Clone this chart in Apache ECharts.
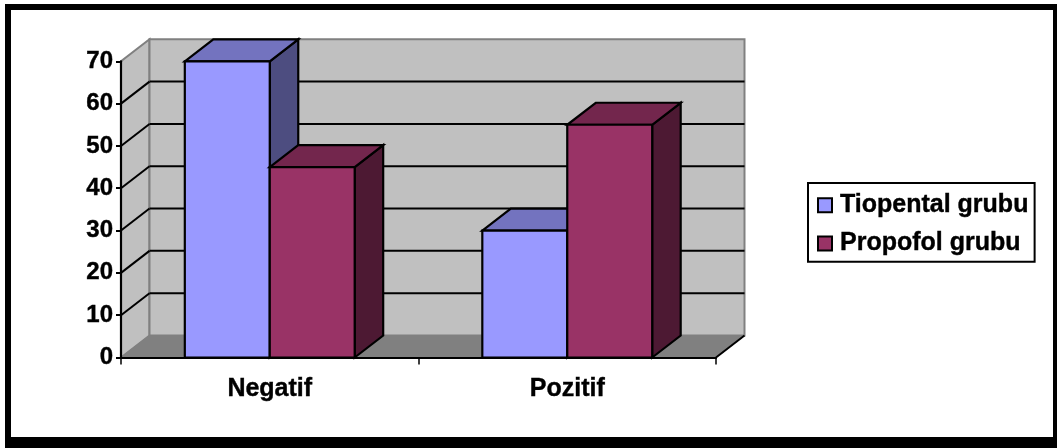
<!DOCTYPE html>
<html>
<head>
<meta charset="utf-8">
<style>html,body{margin:0;padding:0;background:#fff}#chart{width:1057px;height:448px}</style>
<script src="https://cdn.jsdelivr.net/npm/echarts@6/dist/echarts.min.js"></script>
</head>
<body>
<div id="chart"></div>
<script>
const categories = ['Negatif', 'Pozitif'];
const seriesNames = ['Tiopental grubu', 'Propofol grubu'];
const tiopental = [70, 30];
const propofol = [45, 55];
const wallTicks = [0, 10, 20, 30, 40, 50, 60, 70];

// Screen offset of the back plane relative to the front plane of the 3D box.
const DEPTH_X = 28.5;
const DEPTH_Y = -22;
const BAR_SHARE = 0.2855;
const FONT = '"Liberation Sans", Arial, sans-serif';

const faces = {
  blue: { front: '#9999FF', top: '#7373BF', side: '#4D4D80' },
  plum: { front: '#993366', top: '#73264D', side: '#4D1933' }
};

const labelStyle = size => ({
  fontFamily: FONT,
  fontWeight: 'bold',
  fontSize: size,
  color: '#000',
  textBorderColor: '#000',
  textBorderWidth: 0.4
});

const back = p => [p[0] + DEPTH_X, p[1] + DEPTH_Y];

function poly(points, fill, stroke, lineWidth) {
  return {
    type: 'polygon',
    shape: { points },
    style: { fill, stroke, lineWidth, lineJoin: 'miter' }
  };
}

function line(a, b, stroke, lineWidth) {
  return {
    type: 'line',
    shape: { x1: a[0], y1: a[1], x2: b[0], y2: b[1] },
    style: { stroke, lineWidth }
  };
}

// Back wall, side wall and floor of the plot box, with gridlines folded round them.
function renderWalls(params, api) {
  const bottom = api.coord([0, 0])[1];
  const top = api.coord([0, 70])[1];
  const cs = params.coordSys;
  const left = cs.x;
  const right = cs.x + cs.width;
  const grey = '#808080';
  const children = [
    poly([[left, bottom], back([left, bottom]), back([left, top]), [left, top]], '#C0C0C0', grey, 2),
    poly([back([left, bottom]), back([right, bottom]), back([right, top]), back([left, top])], '#C0C0C0', grey, 2),
    poly([[left, bottom], [right, bottom], back([right, bottom]), back([left, bottom])], '#808080', grey, 1),
    line([right, bottom], back([right, bottom]), '#000', 2)
  ];
  wallTicks.slice(1, -1).forEach(v => {
    const y = api.coord([0, v])[1];
    children.push(line([left, y], back([left, y]), '#000', 2));
    children.push(line(back([left, y]), back([right, y]), '#000', 2));
  });
  return { type: 'group', children };
}

// One extruded column: side and top faces first, then the front face.
function barRenderer(slot, colors) {
  return function (params, api) {
    const center = api.coord([api.value(0), 0]);
    const topY = api.coord([api.value(0), api.value(1)])[1];
    const w = api.size([1, 0])[0] * BAR_SHARE;
    const x0 = center[0] + (slot - 1) * w;
    const x1 = x0 + w;
    const y0 = center[1];
    return {
      type: 'group',
      children: [
        poly([[x1, y0], back([x1, y0]), back([x1, topY]), [x1, topY]], colors.side, '#000', 2.2),
        poly([[x0, topY], [x1, topY], back([x1, topY]), back([x0, topY])], colors.top, '#000', 2.2),
        poly([[x0, y0], [x1, y0], [x1, topY], [x0, topY]], colors.front, '#000', 2.2)
      ]
    };
  };
}

const chart = echarts.init(document.getElementById('chart'), null, { renderer: 'canvas' });
chart.setOption({
  animation: false,
  backgroundColor: '#fff',
  graphic: [
    { type: 'rect', z: -20, silent: true, shape: { x: 5, y: 4, width: 1052, height: 444 }, style: { fill: '#000' } },
    { type: 'rect', z: -19, silent: true, shape: { x: 11, y: 10, width: 1042, height: 427 }, style: { fill: '#fff' } }
  ],
  grid: { left: 121, top: 61.3, width: 595, height: 296.2 },
  legend: {
    data: seriesNames,
    orient: 'vertical',
    left: 808,
    top: 183,
    padding: [9.5, 6, 5.5, 9],
    itemWidth: 14,
    itemHeight: 14,
    itemGap: 13,
    icon: 'rect',
    backgroundColor: '#fff',
    borderColor: '#000',
    borderWidth: 2,
    textStyle: Object.assign(labelStyle(25), { padding: [0, 0, 0, 3] })
  },
  xAxis: {
    type: 'category',
    data: categories,
    z: 5,
    axisLine: { lineStyle: { color: '#000', width: 2.2 } },
    axisTick: { show: true, alignWithLabel: false, length: 7, lineStyle: { color: '#000', width: 1.5 } },
    axisLabel: Object.assign(labelStyle(25), { margin: 19 })
  },
  yAxis: {
    type: 'value',
    min: 0,
    max: 70,
    interval: 10,
    z: 5,
    splitLine: { show: false },
    axisLine: { show: true, lineStyle: { color: '#000', width: 2.2 } },
    axisTick: { show: true, length: 5, lineStyle: { color: '#000', width: 2 } },
    axisLabel: Object.assign(labelStyle(24), { margin: 8 })
  },
  series: [
    {
      type: 'custom',
      name: 'walls',
      z: 1,
      silent: true,
      clip: false,
      data: [[0, 0]],
      renderItem: renderWalls
    },
    {
      type: 'custom',
      name: seriesNames[0],
      z: 2,
      clip: false,
      itemStyle: { color: faces.blue.front, borderColor: '#000', borderWidth: 2 },
      data: tiopental.map((v, i) => [i, v]),
      encode: { x: 0, y: 1 },
      renderItem: barRenderer(0, faces.blue)
    },
    {
      type: 'custom',
      name: seriesNames[1],
      z: 3,
      clip: false,
      itemStyle: { color: faces.plum.front, borderColor: '#000', borderWidth: 2 },
      data: propofol.map((v, i) => [i, v]),
      encode: { x: 0, y: 1 },
      renderItem: barRenderer(1, faces.plum)
    }
  ]
});
</script>
</body>
</html>
